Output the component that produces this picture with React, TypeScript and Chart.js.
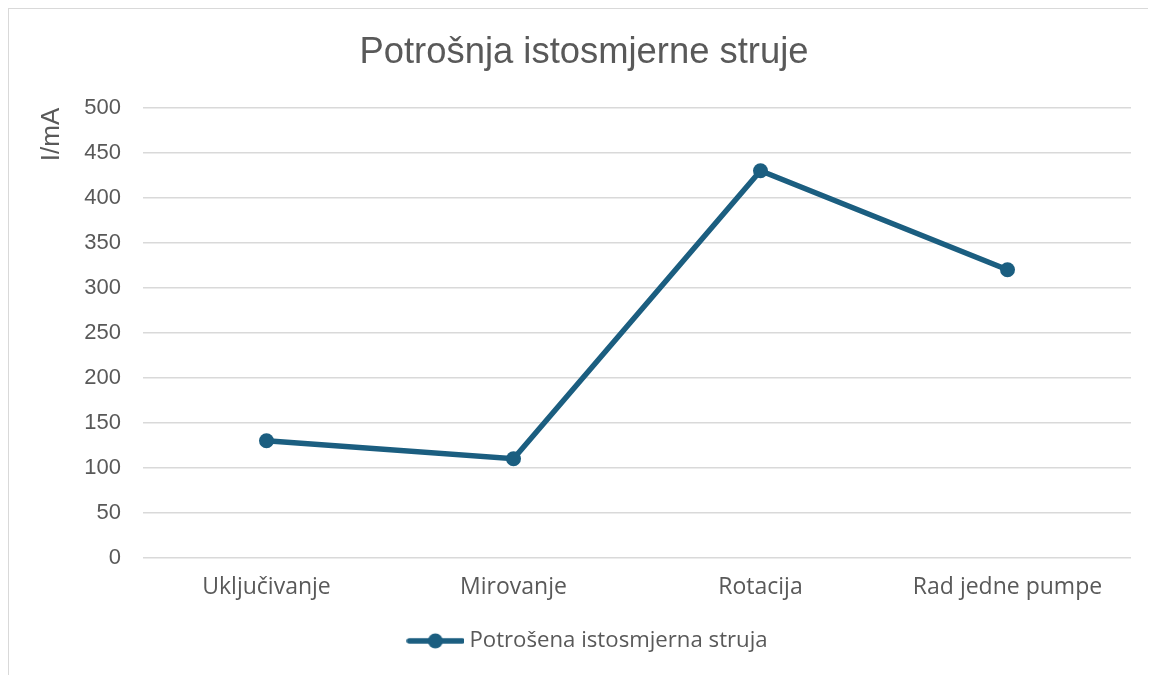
import React, { useEffect, useRef } from "react";
import { Chart, registerables } from "chart.js";

Chart.register(...registerables);

const categories = ["Uključivanje", "Mirovanje", "Rotacija", "Rad jedne pumpe"];
const seriesValues = [130, 110, 430, 320];
const seriesName = "Potrošena istosmjerna struja";
const chartTitle = "Potrošnja istosmjerne struje";
const yAxisTitle = "I/mA";

const LINE_COLOR = "#1b5e80";
const TEXT_COLOR = "#595959";
const GRID_COLOR = "#d9d9d9";

function makeLegendImage(): HTMLCanvasElement {
  const c = document.createElement("canvas");
  c.width = 58;
  c.height = 18;
  const ctx = c.getContext("2d")!;
  ctx.strokeStyle = LINE_COLOR;
  ctx.lineWidth = 5.5;
  ctx.lineCap = "round";
  ctx.beginPath();
  ctx.moveTo(3, 9);
  ctx.lineTo(56, 9);
  ctx.stroke();
  ctx.fillStyle = LINE_COLOR;
  ctx.beginPath();
  ctx.arc(29, 9, 7.5, 0, Math.PI * 2);
  ctx.fill();
  return c;
}

// shifts the title and legend so they are centred on the whole chart box
const centerShiftPlugin = {
  id: "centerShift",
  afterLayout(chart: any) {
    if (chart.titleBlock) {
      chart.titleBlock.left += 14;
      chart.titleBlock.right += 14;
    }
    if (chart.legend) {
      chart.legend.left += 20;
      chart.legend.right += 20;
    }
  },
};

export default function App() {
  const ref = useRef<HTMLCanvasElement | null>(null);

  useEffect(() => {
    if (!ref.current) return;
    const legendImg = makeLegendImage();
    const chart = new Chart(ref.current, {
      type: "line",
      data: {
        labels: categories,
        datasets: [
          {
            label: seriesName,
            data: seriesValues,
            borderColor: LINE_COLOR,
            backgroundColor: LINE_COLOR,
            borderWidth: 5.5,
            pointRadius: 7.5,
            pointHoverRadius: 7.5,
            pointBackgroundColor: LINE_COLOR,
            pointBorderWidth: 0,
            tension: 0,
          },
        ],
      },
      plugins: [centerShiftPlugin],
      options: {
        animation: false,
        responsive: false,
        maintainAspectRatio: false,
        layout: { padding: { left: 0, right: 25, top: 0, bottom: 13 } },
        plugins: {
          tooltip: { enabled: false },
          title: {
            display: true,
            text: chartTitle,
            color: TEXT_COLOR,
            font: { family: "'Liberation Sans', Arial, sans-serif", size: 36.4, weight: "normal" },
            padding: { top: 22, bottom: 33 },
          },
          legend: {
            position: "bottom",
            labels: {
              color: TEXT_COLOR,
              font: { family: "'Open Sans', sans-serif", size: 22.2 },
              usePointStyle: true,
              pointStyleWidth: 46,
              padding: 10,
              generateLabels: () => [
                {
                  text: seriesName,
                  fillStyle: LINE_COLOR,
                  strokeStyle: LINE_COLOR,
                  lineWidth: 0,
                  pointStyle: legendImg as any,
                  hidden: false,
                  datasetIndex: 0,
                  fontColor: TEXT_COLOR,
                } as any,
              ],
            },
          },
        },
        scales: {
          x: {
            offset: true,
            grid: { display: false, drawTicks: false },
            border: { display: false },
            ticks: {
              color: TEXT_COLOR,
              font: { family: "'Open Sans', sans-serif", size: 23 },
              padding: 16,
              maxRotation: 0,
            },
            afterFit: (scale: any) => {
              scale.height = 62;
            },
          },
          y: {
            min: 0,
            max: 500,
            grid: { color: GRID_COLOR, lineWidth: 1.5, drawTicks: false },
            border: { display: false },
            ticks: {
              stepSize: 50,
              color: TEXT_COLOR,
              font: { family: "'Liberation Sans', Arial, sans-serif", size: 22 },
              padding: 22,
            },
            title: {
              display: true,
              text: yAxisTitle,
              align: "end",
              color: TEXT_COLOR,
              font: { family: "'Liberation Sans', Arial, sans-serif", size: 26 },
              padding: { top: 27, bottom: 0 },
            },
            afterFit: (scale: any) => {
              scale.width = 134;
            },
          },
        },
      },
    });
    return () => chart.destroy();
  }, []);

  return (
    <div
      style={{
        width: 1147,
        height: 666,
        borderLeft: "1px solid #d9d9d9",
        borderTop: "1px solid #d9d9d9",
        background: "#fff",
        overflow: "hidden",
      }}
    >
      <canvas ref={ref} width={1147} height={666} style={{ display: "block" }} />
    </div>
  );
}
